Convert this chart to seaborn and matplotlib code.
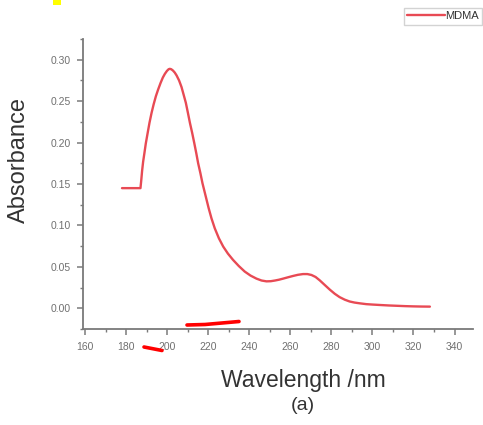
import matplotlib
matplotlib.use("Agg")
import matplotlib.pyplot as plt
from matplotlib.ticker import AutoMinorLocator, FormatStrFormatter, MultipleLocator
from matplotlib.lines import Line2D
from matplotlib.patches import Rectangle
import seaborn as sns
import pandas as pd

# UV absorbance spectrum of MDMA
wavelength = [178, 180, 182, 184, 186, 187, 187.4, 187.8, 188.3, 188.9,
              189.6, 190.5, 191.4, 192.4, 193.4, 194.5, 195.6, 196.8, 197.9,
              198.9, 199.9, 200.7, 201.3, 202.0, 202.8, 203.7, 204.6, 205.8,
              207.0, 208.0, 209.1, 210.1, 211.1, 212.2, 213.2, 214.2, 215.1,
              216.2, 217.2, 218.2, 219.2, 220.2, 221.6, 223.2, 225.2, 227.3,
              229.6, 232.1, 234.9, 237.8, 240.6, 243.5, 246.0, 248.4, 250.5,
              252.5, 254.5, 256.5, 259.0, 261.3, 263.7, 266.2, 268.3, 270.3,
              272.3, 274.3, 276.7, 279.2, 281.6, 284.0, 286.5, 288.9, 291.3,
              293.8, 297, 300, 303.5, 308, 312, 316, 320, 324, 328]
absorbance = [0.145, 0.145, 0.145, 0.145, 0.145, 0.145, 0.155, 0.166, 0.177,
              0.187, 0.199, 0.2116, 0.224, 0.2358, 0.246, 0.2559, 0.264,
              0.272, 0.2785, 0.283, 0.2865, 0.2885, 0.289, 0.2885, 0.287,
              0.2845, 0.281, 0.275, 0.267, 0.258, 0.248, 0.236, 0.2237,
              0.2115, 0.1995, 0.187, 0.175, 0.163, 0.151, 0.141, 0.131, 0.121,
              0.1085, 0.0965, 0.0845, 0.0745, 0.066, 0.0584, 0.051, 0.0443,
              0.0395, 0.0358, 0.0335, 0.0325, 0.0327, 0.0335, 0.0345, 0.0358,
              0.0375, 0.039, 0.0404, 0.0413, 0.0413, 0.0402, 0.0378, 0.0338,
              0.0283, 0.0226, 0.0176, 0.0135, 0.0104, 0.0082, 0.0069, 0.006,
              0.005, 0.0045, 0.004, 0.0034, 0.003, 0.0026, 0.0023, 0.0021,
              0.002]
series_name = "MDMA"

x_label = "Wavelength /nm"
y_label = "Absorbance"
panel_tag = "(a)"

df = pd.DataFrame({"Wavelength": wavelength, "Absorbance": absorbance,
                   "Sample": series_name})

sns.set_style("ticks")
plt.rcParams["font.family"] = ["Liberation Sans", "DejaVu Sans"]

W, H = 483, 425
fig = plt.figure(figsize=(W / 100, H / 100), dpi=100)
ax = fig.add_axes([83 / W, 1 - 329 / H, 390 / W, 290 / H])

line_color = "#e84a54"
axis_grey = "#7a7a7a"

sns.lineplot(data=df, x="Wavelength", y="Absorbance", ax=ax, color=line_color,
             linewidth=1.7, sort=False, legend=False)
for ln in ax.get_lines():
    ln.set_solid_joinstyle("round")

ax.set_xlim(159, 349)
ax.set_ylim(-0.025, 0.325)
ax.xaxis.set_major_locator(MultipleLocator(20))
ax.yaxis.set_major_locator(MultipleLocator(0.05))
ax.yaxis.set_major_formatter(FormatStrFormatter("%.2f"))
ax.xaxis.set_minor_locator(AutoMinorLocator(2))
ax.yaxis.set_minor_locator(AutoMinorLocator(2))

for side in ("top", "right"):
    ax.spines[side].set_visible(False)
for side in ("left", "bottom"):
    ax.spines[side].set_color(axis_grey)
    ax.spines[side].set_linewidth(1.3)

ax.tick_params(which="major", direction="out", length=4, width=1.1,
               color=axis_grey, labelsize=7.5, labelcolor="#707070", pad=5)
ax.tick_params(which="minor", direction="out", length=2.5, width=1.0,
               color=axis_grey)
ax.set_xlabel("")
ax.set_ylabel("")

# Axis titles and panel tag
fig.text(19 / W, 1 - 160 / H, y_label, rotation=90, ha="center", va="center",
         fontsize=17, color="#333333")
fig.text(303 / W, 1 - 381 / H, x_label, ha="center", va="center",
         fontsize=16.5, color="#333333")
fig.text(303 / W, 1 - 405 / H, panel_tag, ha="center", va="center",
         fontsize=14, color="#333333")

# Legend box in the top-right corner
handle = Line2D([], [], color=line_color, linewidth=1.7)
fig.legend([handle], [series_name], loc="upper left",
           bbox_to_anchor=(404 / W, 1 - 8 / H), fontsize=8,
           frameon=True, fancybox=False, edgecolor="#c8c8c8",
           handlelength=3.4, handletextpad=0.0, borderpad=0.3,
           borderaxespad=0.0, labelcolor="#333333")

# Highlighter and pen marks
fig.add_artist(Rectangle((53 / W, 1 - 5 / H), 8 / W, 5 / H,
                         transform=fig.transFigure, color="#ffff00", lw=0))
fig.add_artist(Line2D([187 / W, 205 / W, 222 / W, 239 / W],
                      [1 - 325 / H, 1 - 324.5 / H, 1 - 323 / H, 1 - 321.5 / H],
                      transform=fig.transFigure, color="#ff0000",
                      linewidth=2.6, solid_capstyle="round"))
fig.add_artist(Line2D([144 / W, 162 / W], [1 - 347 / H, 1 - 350.5 / H],
                      transform=fig.transFigure, color="#ff0000",
                      linewidth=2.6, solid_capstyle="round"))

fig.savefig("out.png", dpi=100)
